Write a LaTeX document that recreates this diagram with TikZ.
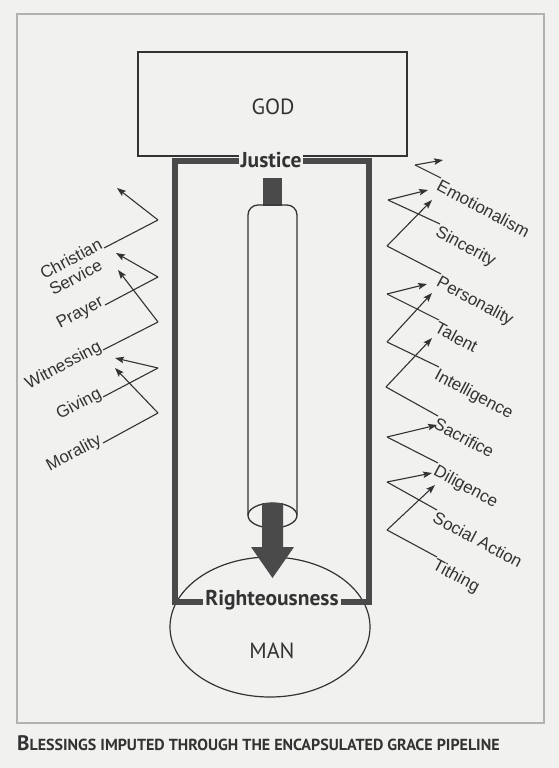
\documentclass[tikz,border=0pt]{standalone}
\usepackage{fontspec}
\setmainfont{Liberation Sans}
\newfontfamily\ptfont{PT Sans}
\usetikzlibrary{arrows.meta,shapes.geometric}
\definecolor{paper}{HTML}{F1F1EF}
\definecolor{ink}{HTML}{333333}
\definecolor{framec}{HTML}{4A4A4A}
\definecolor{outerc}{HTML}{B2B2B2}
\begin{document}
\begin{tikzpicture}[x=1pt,y=-1pt,
  lab/.style={font=\fontsize{17}{20}\selectfont, text=ink, inner sep=0.5pt},
  llab/.style={lab, rotate=28, anchor=base east},
  rlab/.style={lab, rotate=-28, anchor=north west},
  conn/.style={draw=ink, line width=1.1pt},
  arr/.style={conn, -{Stealth[length=9pt,width=6.5pt,inset=1.8pt]}},
  boldlab/.style={font=\ptfont\bfseries\fontsize{21.5}{21.5}\selectfont, text=ink, fill=paper, inner sep=2pt},
  big/.style={font=\ptfont\fontsize{22}{22}\selectfont, text=ink}
]
\fill[paper] (0,0) rectangle (559,768);
\useasboundingbox (0,0) rectangle (559,768);
\draw[outerc, line width=2.5pt] (17,14) rectangle (544,723);

% MAN ellipse
\node[draw=ink, line width=1.2pt, ellipse, minimum width=200pt, minimum height=140pt, inner sep=0pt] (man) at (270,627) {};
\node[big] (mantext) at (272,651) {MAN};

% pipeline frame
\node[draw=framec, line width=5.5pt, minimum width=194pt, minimum height=441pt, inner sep=0pt] (pipe) at (272,381.5) {};

% GOD box
\node[draw=ink, line width=1.2pt, minimum width=269pt, minimum height=104pt, inner sep=0pt] (godbox) at (272.5,104) {};
\node[big] (god) at (273,107) {GOD};

\node[boldlab] (justice) at (271,160) {Justice};
\node[boldlab] (righteous) at (272,600) {Righteousness};

% tube
\fill[framec] (263,178) rectangle (282,206);
\draw[ink, line width=1.3pt, rounded corners=10pt] (248,515) -- (248,205) -- (297,205) -- (297,515);
\draw[ink, line width=1.3pt] (272.5,515.5) ellipse [x radius=24.5pt, y radius=12.5pt];
\coordinate (shafttop) at (272.5,503);
\coordinate (shafttip) at (272.5,578);
\fill[framec] (262,503) -- (283,503) -- (283,547) -- (294,547) -- (shafttip) -- (251,547) -- (262,547) -- cycle;

% left labels
\node[llab] (chr) at (104,248) {Christian};
\node[lab, rotate=28, anchor=base east] (ser) at (104,269) {Service};
\node[llab] (pra) at (105,305) {Prayer};
\node[llab] (wit) at (103,350) {Witnessing};
\node[llab] (giv) at (103,397) {Giving};
\node[llab] (mor) at (103,443) {Morality};

\coordinate (vchr) at (158,220); \coordinate (tchr) at (117,188);
\coordinate (vpra) at (158,277); \coordinate (tpra) at (116,253);
\coordinate (vwit) at (158,322); \coordinate (twit) at (118,270);
\coordinate (vgiv) at (158,368); \coordinate (tgiv) at (115,358);
\coordinate (vmor) at (158,413); \coordinate (tmor) at (115,368);

\foreach \n in {chr,pra,wit,giv,mor}{
  \draw[conn] (\n.base east) -- (v\n);
  \draw[arr] (v\n) -- (t\n);
}

% right labels
\node[rlab] (emo) at (441,178) {Emotionalism};
\node[rlab] (sin) at (440,224) {Sincerity};
\node[rlab] (per) at (441,274) {Personality};
\node[rlab] (tal) at (439,320) {Talent};
\node[rlab] (int) at (439,367) {Intelligence};
\node[rlab] (sac) at (438,416) {Sacrifice};
\node[rlab] (dil) at (438,463) {Diligence};
\node[rlab] (soc) at (437,510) {Social Action};
\node[rlab] (tit) at (437,557) {Tithing};

\coordinate (vemo) at (415,165); \coordinate (temo) at (443,160);
\coordinate (vsin) at (388,200); \coordinate (tsin) at (428,190);
\coordinate (vper) at (387,246); \coordinate (tper) at (432,200);
\coordinate (vtal) at (387,294); \coordinate (ttal) at (427,284);
\coordinate (vint) at (387,342); \coordinate (tint) at (432,293);
\coordinate (vsac) at (386,387); \coordinate (tsac) at (432,338);
\coordinate (vdil) at (387,437); \coordinate (tdil) at (437,425);
\coordinate (vsoc) at (387,482); \coordinate (tsoc) at (432,473);
\coordinate (vtit) at (387,530); \coordinate (ttit) at (435,485);

\foreach \n in {emo,sin,per,tal,int,sac,dil,soc,tit}{
  \draw[conn] (\n.north west) -- (v\n);
  \draw[arr] (v\n) -- (t\n);
}

% caption
\node[anchor=base west, inner sep=0pt, text=ink, font=\ptfont\bfseries] (cap) at (17,750)
  {{\fontsize{21}{21}\selectfont B}{\fontsize{16}{16}\selectfont LESSINGS IMPUTED THROUGH THE ENCAPSULATED GRACE PIPELINE}};
\end{tikzpicture}
\end{document}
